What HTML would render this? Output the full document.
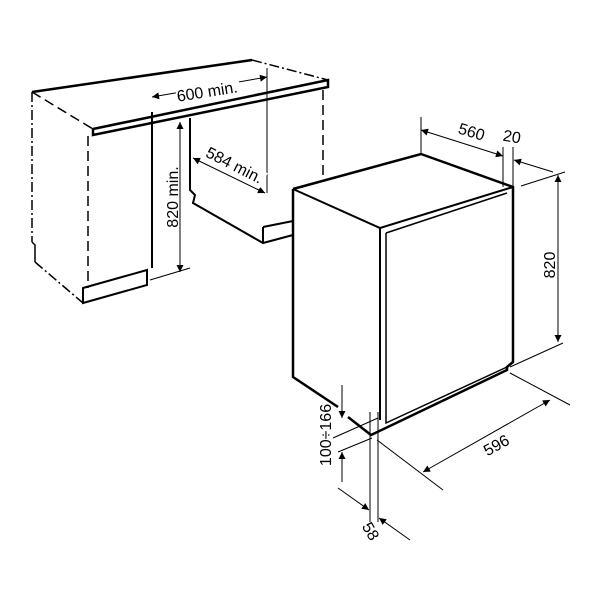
<!DOCTYPE html>
<html><head><meta charset="utf-8"><style>
html,body{margin:0;padding:0;background:#fff}
svg{display:block}
text{font-family:"Liberation Sans",sans-serif;font-size:16px;fill:#000}
</style></head><body>
<svg width="600" height="600" viewBox="0 0 600 600" xmlns="http://www.w3.org/2000/svg">
<defs>
<marker id="a" viewBox="0 0 10 10" refX="10" refY="5" markerWidth="12" markerHeight="7" markerUnits="userSpaceOnUse" orient="auto-start-reverse"><path d="M0,0L10,5L0,10z" fill="#000"/></marker>
</defs>
<g fill="none" stroke="#000" stroke-linejoin="miter">
<!-- counter top -->
<path d="M32,92 L252,60" stroke-width="2.5"/>
<path d="M252,60 L328,80" stroke-width="1.5" stroke-dasharray="10,3,2,3"/>
<path d="M93,129 L328,80 L328,87 L93,135 Z" stroke-width="2.5"/>
<path d="M32,92 L93,129" stroke-width="1.5" stroke-dasharray="10,5"/>
<!-- left cabinet -->
<path d="M32,92 L32,242" stroke-width="1.5" stroke-dasharray="10,3,2,3"/>
<path d="M32,242 L35,245 L35,262" stroke-width="1.5"/>
<path d="M35,262 L83,303" stroke-width="1.5" stroke-dasharray="10,3,2,3"/>
<path d="M88,136 L88,288" stroke-width="1.5" stroke-dasharray="10,5"/>
<path d="M83,288 L147,270 L147,285 L83,303 Z" stroke-width="2"/>
<path d="M152,112 L152,268" stroke-width="2"/>
<!-- right cabinet -->
<path d="M190,118 L190,190 L195,195 L193,203 L263,243 L293,235 M263,227 L263,243 M263,227 L293,221" stroke-width="2"/>
<path d="M323,90 L323,182" stroke-width="1.5" stroke-dasharray="10,5"/>
<!-- dims cabinet -->
<path d="M267,68 L267,193" stroke-width="1"/>
<line x1="152" y1="97" x2="267" y2="77" stroke-width="1" marker-start="url(#a)" marker-end="url(#a)"/>
<line x1="180" y1="122" x2="180" y2="272" stroke-width="1" marker-start="url(#a)" marker-end="url(#a)"/>
<path d="M150,280 L190,268" stroke-width="1"/>
<line x1="193" y1="158" x2="265" y2="193" stroke-width="1" marker-start="url(#a)" marker-end="url(#a)"/>
</g>
<!-- white backgrounds for labels -->
<rect x="176" y="82" width="64" height="17" fill="#fff" transform="rotate(-9 208 91)"/>
<rect x="196" y="156" width="72" height="17" fill="#fff" transform="rotate(27 232 164)"/>
<g fill="none" stroke="#000" stroke-linejoin="miter">
<!-- appliance -->
<path d="M293,189 L421,154 L513,187 L513,362 L507,367 L507,370 L371,435 L348,417" stroke-width="2.5"/>
<path d="M338,407 L293,377 L293,189" stroke-width="2.5"/>
<path d="M293,189 L380,228 L513,187" stroke-width="2"/>
<path d="M380,228 L380,420" stroke-width="2"/>
<path d="M386,233 L507,193 M386,233 L386,423 L507,367" stroke-width="1.5"/>
<!-- dims appliance -->
<path d="M421,117 L421,154 M503,147 L503,187 M513,147 L513,187 M521,186 L565,172 M510,367 L563,343 M510,373 L570,405 M377,440 L443,490 M333,438 L378,418 M338,452 L372,438 M370,412 L370,522 M378,412 L378,522" stroke-width="1"/>
<line x1="421" y1="130" x2="503" y2="156" stroke-width="1" marker-start="url(#a)" marker-end="url(#a)"/>
<line x1="553" y1="172" x2="514" y2="160" stroke-width="1" marker-end="url(#a)"/>
<line x1="558" y1="175" x2="558" y2="342" stroke-width="1" marker-start="url(#a)" marker-end="url(#a)"/>
<line x1="423" y1="472" x2="550" y2="400" stroke-width="1" marker-start="url(#a)" marker-end="url(#a)"/>
<line x1="342" y1="385" x2="342" y2="418" stroke-width="1" marker-end="url(#a)"/>
<line x1="342" y1="482" x2="342" y2="452" stroke-width="1" marker-end="url(#a)"/>
<line x1="338" y1="488" x2="369" y2="510" stroke-width="1" marker-end="url(#a)"/>
<line x1="410" y1="540" x2="379" y2="518" stroke-width="1" marker-end="url(#a)"/>
</g>
<text transform="translate(208,97) rotate(-9)" text-anchor="middle">600 min.</text>
<text transform="translate(178,197) rotate(-90)" text-anchor="middle">820 min.</text>
<text transform="translate(232,170) rotate(27)" text-anchor="middle">584 min.</text>
<text transform="translate(470,137) rotate(17)" text-anchor="middle">560</text>
<text transform="translate(511,142) rotate(10)" text-anchor="middle">20</text>
<text transform="translate(555,265) rotate(-90)" text-anchor="middle">820</text>
<text transform="translate(499,450) rotate(-29)" text-anchor="middle">596</text>
<text transform="translate(331,435) rotate(-90)" text-anchor="middle">100÷166</text>
<text transform="translate(366,534) rotate(60)" text-anchor="middle">58</text>
</svg>
</body></html>
